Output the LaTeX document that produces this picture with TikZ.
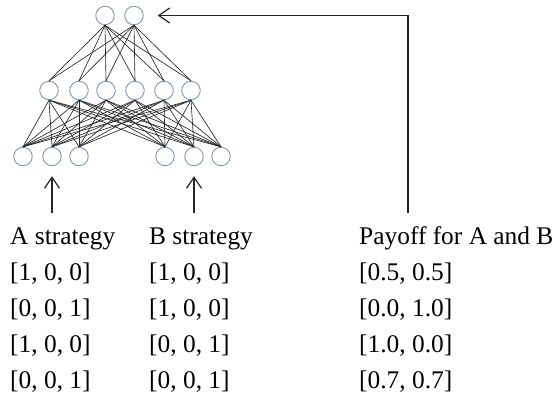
\documentclass[tikz,border=0pt]{standalone}
\usepackage{fontspec}
\setmainfont{Liberation Serif}
\usetikzlibrary{arrows.meta}
\begin{document}
\begin{tikzpicture}[x=1pt,y=-1pt,
  neuron/.style={circle,draw=nodeblue,line width=0.9pt,minimum size=18.5pt,inner sep=0pt},
  link/.style={draw=black!85,line width=0.65pt},
  feed/.style={draw=black!85,line width=1.2pt,-{Straight Barb[length=11pt,width=15pt,line width=1.2pt]}},
  label/.style={anchor=base west,inner sep=0pt,font=\fontsize{25.4}{30}\selectfont}]
\definecolor{nodeblue}{HTML}{7F98B8}
\useasboundingbox (0,0) rectangle (554,397);

% output layer
\node[neuron] (o1) at (105,15.5) {};
\node[neuron] (o2) at (134,15.5) {};
% hidden layer
\foreach \i/\x in {1/49,2/79,3/106,4/135,5/164,6/191}
  \node[neuron] (h\i) at (\x,90.5) {};
% input layer: A strategy (1-3), B strategy (4-6)
\foreach \i/\x in {1/23,2/52,3/79,4/165,5/194,6/221}
  \node[neuron] (n\i) at (\x,156.5) {};

% fully connected weights
\foreach \i in {1,2}
  \foreach \j in {1,...,6}
    \draw[link] (o\i.south) -- (h\j.north);
\foreach \j in {1,...,6}
  \foreach \k in {1,...,6}
    \draw[link] (h\j.south) -- (n\k.north);

% column headings
\node[label] (ah) at (10,244) {A strategy};
\node[label] (bh) at (149,244) {B strategy};
\node[label] (ph) at (359,244) {Payoff for A and B};

% training samples
\foreach \r/\y/\a/\b/\p in {1/280/{[1, 0, 0]}/{[1, 0, 0]}/{[0.5, 0.5]},
                            2/316/{[0, 0, 1]}/{[1, 0, 0]}/{[0.0, 1.0]},
                            3/352/{[1, 0, 0]}/{[0, 0, 1]}/{[1.0, 0.0]},
                            4/388/{[0, 0, 1]}/{[0, 0, 1]}/{[0.7, 0.7]}}{
  \node[label] (a\r) at (10,\y) {\a};
  \node[label] (b\r) at (149,\y) {\b};
  \node[label] (p\r) at (359,\y) {\p};
}

% inputs and target
\coordinate (atail) at (52,213);
\coordinate (btail) at (194,213);
\coordinate (ptail) at (408,213);
\draw[feed] (atail) -- ([yshift=-10pt]n2.south);
\draw[feed] (btail) -- ([yshift=-10pt]n5.south);
\draw[feed] (ptail) |- ([xshift=14pt]o2.east);
\end{tikzpicture}
\end{document}
